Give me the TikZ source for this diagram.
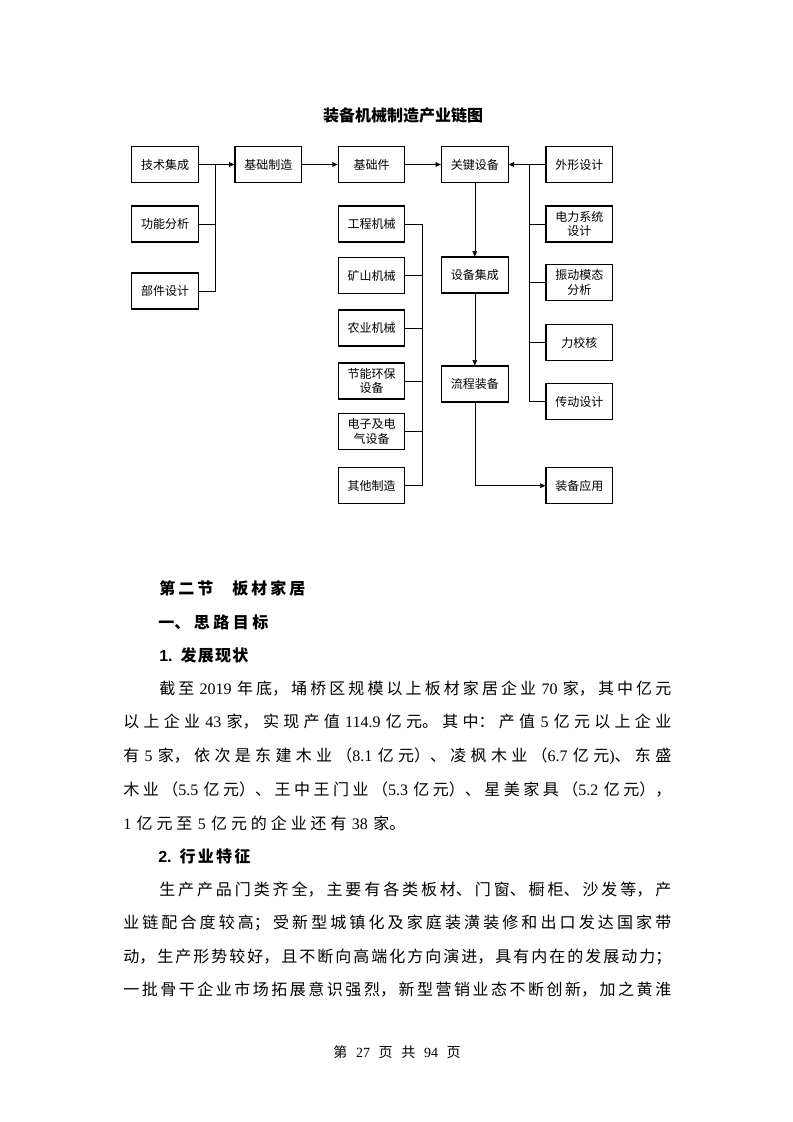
\documentclass[tikz,border=0pt]{standalone}
\usepackage{fontspec}
\setmainfont{Liberation Serif}
\newfontfamily\cjk{Noto Sans CJK SC}
\newfontfamily\sansb{Liberation Sans}
\usetikzlibrary{arrows.meta}
\XeTeXlinebreaklocale "zh"
\XeTeXlinebreakskip=0pt plus 1pt
\newcommand\shu[1]{{\rmfamily #1}}
\newcommand\hao[1]{{\sansb\bfseries #1}}

\begin{document}
\begin{tikzpicture}[x=0.75pt,y=-0.75pt,
    box/.style={draw,line width=0.8pt,minimum width=50pt,minimum height=27pt,
      inner sep=1pt,align=center,font=\cjk\fontsize{9}{11}\selectfont},
    link/.style={line width=0.7pt},
    flow/.style={link,-{Triangle[length=4pt,width=3.5pt]}},
    thinflow/.style={line width=0.4pt,-{Triangle[length=4pt,width=3.5pt]}},
    txt/.style={anchor=west,inner sep=0pt,text width=#1,
      font=\cjk\fontsize{12}{14}\selectfont,
      execute at begin node={\parindent=0pt\parfillskip=0pt
        \XeTeXlinebreakskip=0pt plus 1fil\relax}},
    head/.style={txt=#1,font=\cjk\bfseries\fontsize{12}{14}\selectfont}
  ]
  \useasboundingbox (0,0) rectangle (793,1122);

  % chart
  \node[font=\cjk\bfseries\fontsize{12}{14}\selectfont] (title) at (403,115) {装备机械制造产业链图};

  \node[box] (jscj) at (165,164.5) {技术集成};
  \node[box] (gnfx) at (165,224) {功能分析};
  \node[box] (bjsj) at (165,291) {部件设计};
  \node[box] (jczz) at (268.3,164.5) {基础制造};
  \node[box] (jcj) at (371.5,164.5) {基础件};
  \node[box] (gcjx) at (371.5,224) {工程机械};
  \node[box] (ksjx) at (371.5,275.5) {矿山机械};
  \node[box] (nyjx) at (371.5,328) {农业机械};
  \node[box] (jnhb) at (371.5,381) {节能环保\\设备};
  \node[box] (dzdq) at (371.5,431.7) {电子及电\\气设备};
  \node[box] (qtzz) at (371.5,485.7) {其他制造};
  \node[box] (gjsb) at (474.8,164.5) {关键设备};
  \node[box] (sbjc) at (474.8,275) {设备集成};
  \node[box] (lczb) at (474.8,384) {流程装备};
  \node[box] (wxsj) at (579.3,164.5) {外形设计};
  \node[box] (dlxt) at (579.3,224) {电力系统\\设计};
  \node[box] (zdmt) at (579.3,282.3) {振动模态\\分析};
  \node[box] (ljh) at (579.3,342.5) {力校核};
  \node[box] (cdsj) at (579.3,401.7) {传动设计};
  \node[box] (zbyy) at (579.3,485.7) {装备应用};

  \coordinate (lbus) at (215.7,164.5);
  \coordinate (mbus) at (422.3,224);
  \coordinate (rbus) at (529.3,164.5);

  \draw[flow] (jscj) -- (jczz);
  \draw[link] (lbus) |- (bjsj);
  \draw[link] (gnfx) -- (gnfx -| lbus);
  \draw[flow] (jczz) -- (jcj);
  \draw[flow] (jcj) -- (gjsb);
  \draw[flow] (wxsj) -- (gjsb);
  \draw[link] (rbus) |- (cdsj);
  \foreach \n in {dlxt,zdmt,ljh}
    \draw[link] (\n) -- (\n -| rbus);
  \draw[link] (gcjx) -- (mbus) |- (qtzz);
  \foreach \n in {ksjx,nyjx,jnhb,dzdq}
    \draw[link] (\n) -- (\n -| mbus);
  \draw[thinflow] (gjsb) -- (sbjc);
  \draw[thinflow] (sbjc) -- (lczb);
  \draw[thinflow] (lczb) |- (zbyy);

  % text of the page
  \node[head=109.5pt] (h1) at (159,588) {第二节　板材家居};
  \node[head=82.5pt] (h2) at (158,622) {一、思路目标};
  \node[head=66.75pt] (h3) at (159,655) {\hao{1.} 发展现状};
  \node[txt=384pt] (p1a) at (159,689) {截至 \shu{2019} 年底，埇桥区规模以上板材家居企业 \shu{70} 家，其中亿元};
  \node[txt=411pt] (p1b) at (123,722) {以上企业 \shu{43} 家，实现产值 \shu{114.9} 亿元。其中：产值 \shu{5} 亿元以上企业};
  \node[txt=411pt] (p1c) at (123,756) {有 \shu{5} 家，依次是东建木业（\shu{8.1} 亿元）、凌枫木业（\shu{6.7} 亿元\shu{)}、东盛};
  \node[txt=411pt] (p1d) at (123,789) {木业（\shu{5.5} 亿元）、王中王门业（\shu{5.3} 亿元）、星美家具（\shu{5.2} 亿元），};
  \node[txt=211.5pt] (p1e) at (123,823) {\shu{1} 亿元至 \shu{5} 亿元的企业还有 \shu{38} 家。};
  \node[head=69pt] (h4) at (158,856) {\hao{2.} 行业特征};
  \node[txt=384pt] (p2a) at (159,890) {生产产品门类齐全，主要有各类板材、门窗、橱柜、沙发等，产};
  \node[txt=411pt] (p2b) at (123,923) {业链配合度较高；受新型城镇化及家庭装潢装修和出口发达国家带};
  \node[txt=411pt] (p2c) at (123,957) {动，生产形势较好，且不断向高端化方向演进，具有内在的发展动力；};
  \node[txt=411pt] (p2d) at (123,990) {一批骨干企业市场拓展意识强烈，新型营销业态不断创新，加之黄淮};

  \node[font=\cjk\fontsize{10.5}{12}\selectfont] (ym) at (397,1052)
    {第\hspace{6.5pt}\shu{27}\hspace{6.5pt}页\hspace{6.5pt}共\hspace{6.5pt}\shu{94}\hspace{6.5pt}页};
\end{tikzpicture}
\end{document}
